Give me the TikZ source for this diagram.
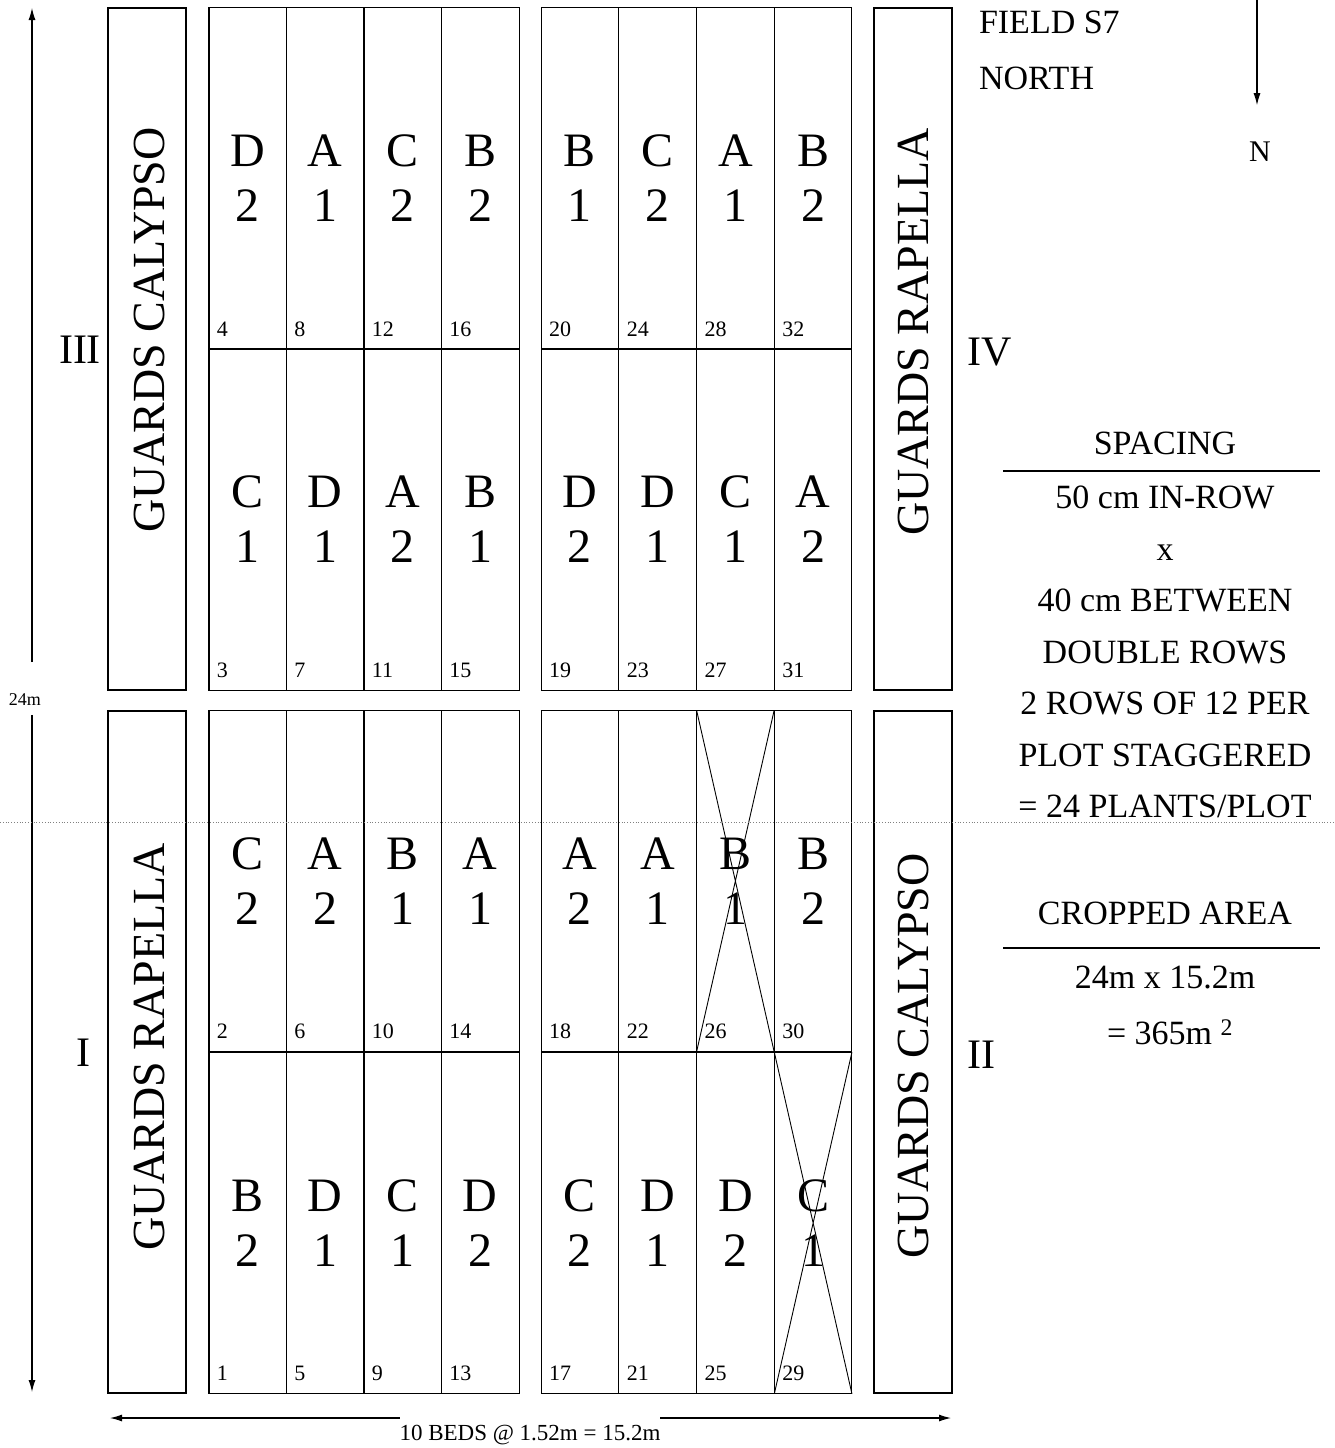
\documentclass[tikz,border=0pt]{standalone}
\usepackage{fontspec}
\setmainfont{Liberation Serif}
\usetikzlibrary{arrows.meta,positioning,calc}

\begin{document}
\begin{tikzpicture}[x=1pt, y=-1pt, line width=1.1pt, every node/.style={inner sep=0pt, outer sep=0pt}]
\tikzset{plot/.style={draw, minimum width=77.6pt, minimum height=341.5pt, align=center, font=\fontsize{48}{55}\selectfont}}
\tikzset{num/.style={font=\fontsize{22}{22}\selectfont}}
\tikzset{guard/.style={draw, minimum width=78pt, minimum height=682pt}}
\tikzset{guardtxt/.style={rotate=90, font=\fontsize{46}{46}\selectfont}}
\tikzset{rep/.style={font=\fontsize{42}{42}\selectfont}}
\tikzset{side/.style={font=\fontsize{34}{34}\selectfont, text height=24pt, text depth=7pt}}
\tikzset{arrow/.style={-{Latex[length=12pt, width=7pt]}, line width=1.1pt}}
\useasboundingbox (0,0) rectangle (1335,1448);

% plots, one column at a time: top upper / top lower / bottom upper / bottom lower
\foreach \x/\qa/\qb/\qc/\qd [count=\k from 0] in {
  247.75/D\\2/C\\1/C\\2/B\\2,
  325.25/A\\1/D\\1/A\\2/D\\1,
  402.75/C\\2/A\\2/B\\1/C\\1,
  480.25/B\\2/B\\1/A\\1/D\\2,
  579.875/B\\1/D\\2/A\\2/C\\2,
  657.625/C\\2/D\\1/A\\1/D\\1,
  735.375/A\\1/C\\1/B\\1/D\\2,
  813.125/B\\2/A\\2/B\\2/C\\1} {
  \pgfmathtruncatemacro\na{4*\k+4}
  \pgfmathtruncatemacro\nb{4*\k+3}
  \pgfmathtruncatemacro\nc{4*\k+2}
  \pgfmathtruncatemacro\nd{4*\k+1}
  \node[plot, label={[num, anchor=south west, xshift=8pt, yshift=13pt]south west:\na}] (p\na) at (\x,178.5) {\qa};
  \node[plot, label={[num, anchor=south west, xshift=8pt, yshift=13pt]south west:\nb}] (p\nb) at (\x,519.5) {\qb};
  \node[plot, label={[num, anchor=south west, xshift=8pt, yshift=13pt]south west:\nc}] (p\nc) at (\x,881) {\qc};
  \node[plot, label={[num, anchor=south west, xshift=8pt, yshift=13pt]south west:\nd}] (p\nd) at (\x,1223) {\qd};
}
% lost plots
\draw[line width=0.9pt] (p26.north west) -- (p26.south east) (p26.north east) -- (p26.south west);
\draw[line width=0.9pt] (p29.north west) -- (p29.south east) (p29.north east) -- (p29.south west);

% guard rows
\node[guard] (g3) at (147,349) {};
\node[guard] (g1) at (147,1052) {};
\node[guard] (g4) at (913,349) {};
\node[guard] (g2) at (913,1052) {};
\node[guardtxt] (t3) at (149,330) {GUARDS CALYPSO};
\node[guardtxt] (t1) at (149,1047) {GUARDS RAPELLA};
\node[guardtxt] (t4) at (913,332) {GUARDS RAPELLA};
\node[guardtxt] (t2) at (913,1056) {GUARDS CALYPSO};

% replicates
\node[rep] (r3) at (80,350) {III};
\node[rep] (r4) at (990,352) {IV};
\node[rep] (r1) at (83,1053) {I};
\node[rep] (r2) at (981,1055) {II};

% length
\coordinate (vt) at (32,8);
\coordinate (vb) at (32,1392);
\node[font=\fontsize{18}{18}\selectfont] (len) at (25,700) {24m};
\draw[arrow] ($(len.north -| vt)+(0,-32)$) -- (vt);
\draw[arrow] ($(len.south -| vb)+(0,9)$) -- (vb);

% width
\coordinate (bl) at (110,1418);
\coordinate (br) at (951,1418);
\node[font=\fontsize{23}{23}\selectfont] (beds) at (530,1435) {10 BEDS @ 1.52m = 15.2m};
\draw[arrow] (beds.west |- bl) -- (bl);
\draw[arrow] (beds.east |- br) -- (br);

% field and north
\node[side, anchor=base west] (field) at (979,33) {FIELD S7};
\node[side, anchor=base west] (nort) at (979,89) {NORTH};
\coordinate (ntop) at (1257,0);
\node[font=\fontsize{30}{30}\selectfont] (nn) at (1260,152) {N};
\draw[arrow] (ntop) -- ([yshift=37pt]nn.north -| ntop);

% spacing
\node[side] (sp) at (1165,446) {SPACING};
\draw (1003,471) -- (1320,471);
\node[side] (s1) at (1165,500) {50 cm IN-ROW};
\node[side, below=20.5pt of s1] (s2) {x};
\node[side, below=20.5pt of s2] (s3) {40 cm BETWEEN};
\node[side, below=20.5pt of s3] (s4) {DOUBLE ROWS};
\node[side, below=20.5pt of s4] (s5) {2 ROWS OF 12 PER};
\node[side, below=20.5pt of s5] (s6) {PLOT STAGGERED};
\node[side, below=20.5pt of s6] (s7) {= 24 PLANTS/PLOT};

% cropped area
\node[side] (ca) at (1165,916) {CROPPED AREA};
\draw (1003,948) -- (1320,948);
\node[side] (ar1) at (1165,980) {24m x 15.2m};
\node[side] (ar2) at (1170,1036) {= 365m \textsuperscript{2}};

% fold mark
\draw[dotted, gray, line width=0.8pt] (0,822) -- (1335,822);
\end{tikzpicture}
\end{document}
